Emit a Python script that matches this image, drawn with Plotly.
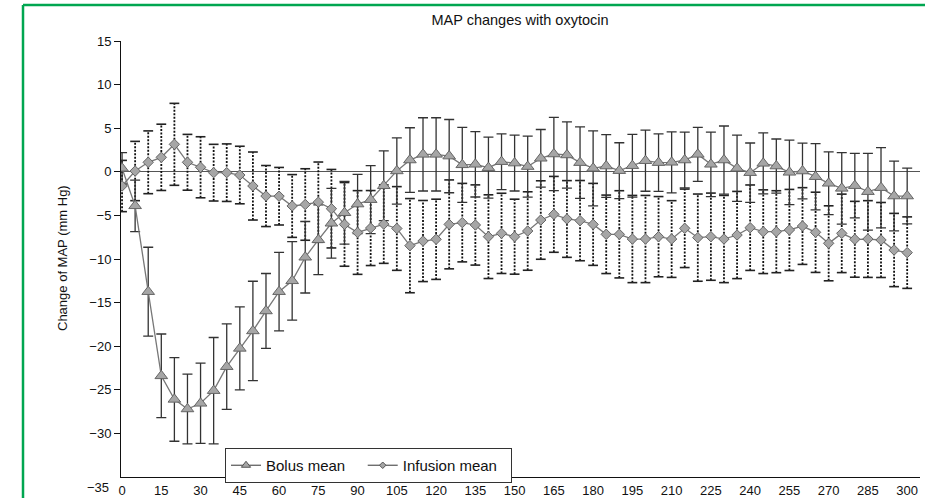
import plotly.graph_objects as go

# ---- data (minutes after oxytocin) ----
time_min = [0, 5, 10, 15, 20, 25, 30, 35, 40, 45, 50, 55, 60, 65, 70, 75, 80, 85, 90, 95,
            100, 105, 110, 115, 120, 125, 130, 135, 140, 145, 150, 155, 160, 165, 170, 175,
            180, 185, 190, 195, 200, 205, 210, 215, 220, 225, 230, 235, 240, 245, 250, 255,
            260, 265, 270, 275, 280, 285, 290, 295, 300]

bolus_mean = [0.4, -3.9, -13.75, -23.4, -26.1, -27.2, -26.55, -25.1, -22.35, -20.25,
              -18.25, -15.96, -13.75, -12.5, -9.8, -7.8, -5.9, -4.7, -3.7, -3.2,
              -1.6, 0.1, 1.35, 2.0, 2.0, 1.8, 0.8, 0.86, 0.47, 1.16,
              1.0, 0.6, 1.55, 2.04, 1.93, 1.05, 0.4, 0.66, 0.13, 0.7,
              1.27, 1.05, 1.09, 1.35, 2.0, 0.86, 1.35, 0.4, -0.1, 0.97,
              0.66, -0.06, 0.09, -0.56, -1.32, -1.9, -1.59, -2.28, -1.82, -2.78,
              -2.78]
bolus_sd = [1.8, 2.95, 5.1, 4.8, 4.8, 4.0, 4.6, 6.1, 4.9, 4.75,
            5.7, 4.3, 4.5, 4.5, 4.1, 4.0, 4.0, 3.6, 3.4, 3.9,
            4.0, 3.8, 3.7, 4.2, 4.2, 4.2, 4.3, 3.75, 3.5, 3.2,
            3.2, 3.5, 3.3, 4.2, 3.8, 4.1, 4.3, 3.6, 3.2, 3.6,
            3.5, 3.3, 3.5, 3.2, 3.1, 3.7, 3.9, 3.8, 3.4, 3.5,
            3.1, 3.7, 3.2, 3.8, 3.6, 4.1, 3.7, 4.4, 4.6, 4.0,
            3.2]

infusion_mean = [-1.63, 0.09, 1.09, 1.66, 3.15, 1.09, 0.52, -0.1, -0.1, -0.37,
                 -1.63, -2.78, -2.8, -3.92, -3.75, -3.48, -4.23, -6.03, -6.96, -6.45,
                 -6.0, -6.5, -8.47, -7.94, -7.74, -6.03, -5.83, -6.1, -7.44, -7.06,
                 -7.44, -6.79, -5.53, -4.88, -5.41, -5.6, -6.03, -7.17, -7.17, -7.71,
                 -7.71, -7.44, -7.71, -6.48, -7.55, -7.44, -7.71, -7.25, -6.41, -6.87,
                 -6.87, -6.67, -6.22, -6.94, -8.2, -7.06, -7.74, -7.71, -7.82, -8.97,
                 -9.27]
infusion_sd = [2.94, 3.4, 3.6, 3.8, 4.7, 3.2, 3.5, 3.25, 3.3, 3.3,
               3.9, 3.5, 3.3, 3.6, 4.1, 4.6, 4.5, 4.8, 4.8, 4.3,
               4.5, 4.8, 5.4, 4.65, 4.6, 5.1, 4.5, 4.6, 4.8, 4.6,
               4.3, 4.5, 4.5, 4.35, 4.4, 4.6, 4.7, 4.5, 5.0, 5.0,
               5.0, 4.6, 4.4, 4.5, 5.0, 5.0, 5.0, 5.0, 4.9, 4.8,
               4.7, 4.65, 4.4, 4.6, 4.3, 4.5, 4.35, 4.4, 4.3, 4.2,
               4.1]

x_ticks = [0, 15, 30, 45, 60, 75, 90, 105, 120, 135, 150, 165, 180, 195, 210, 225,
           240, 255, 270, 285, 300]
y_ticks = [-30, -25, -20, -15, -10, -5, 0, 5, 10, 15]

title_text = "MAP changes with oxytocin"
y_title = "Change of MAP (mm Hg)"
bolus_name = "Bolus mean"
infusion_name = "Infusion mean"

FONT = "Liberation Sans, Arial, Helvetica, sans-serif"
INK = "#111111"

# ---- derived geometry for the dotted infusion error bars ----
bar_x, bar_y, cap_x, cap_y = [], [], [], []
for t, m, s in zip(time_min, infusion_mean, infusion_sd):
    bar_x += [t, t, None]
    bar_y += [m - s, m + s, None]
    cap_x += [t, t]
    cap_y += [m - s, m + s]

fig = go.Figure()

# dotted infusion SD bars
fig.add_trace(go.Scatter(x=bar_x, y=bar_y, mode="lines", showlegend=False,
                         hoverinfo="skip",
                         line=dict(color="#111111", width=1.8, dash="2px,1.5px")))
fig.add_trace(go.Scatter(x=cap_x, y=cap_y, mode="markers", showlegend=False,
                         hoverinfo="skip",
                         marker=dict(symbol="line-ew", size=7,
                                     line=dict(color="#222222", width=1.6))))

line_style = dict(color="#777777", width=1.3)

# bolus
fig.add_trace(go.Scatter(
    x=time_min, y=bolus_mean, mode="lines+markers", name=bolus_name,
    showlegend=False, line=line_style,
    marker=dict(symbol="triangle-up", size=11, color="#a6a6a6",
                line=dict(color="#666666", width=1)),
    error_y=dict(type="data", array=bolus_sd, visible=True, color="#333333",
                 thickness=1.3, width=5),
))

# infusion
fig.add_trace(go.Scatter(
    x=time_min, y=infusion_mean, mode="lines+markers", name=infusion_name,
    showlegend=False, line=line_style,
    marker=dict(symbol="diamond", size=8, color="#a6a6a6",
                line=dict(color="#666666", width=1)),
))

# legend-only entries (small symbols as in the original key)
fig.add_trace(go.Scatter(
    x=[None], y=[None], mode="lines+markers",
    name=bolus_name + "\u00a0\u00a0\u00a0",
    line=dict(color="#555555", width=1.2),
    marker=dict(symbol="triangle-up", size=8, color="#a6a6a6",
                line=dict(color="#555555", width=1))))
fig.add_trace(go.Scatter(
    x=[None], y=[None], mode="lines+markers",
    name=infusion_name + "\u00a0\u00a0",
    line=dict(color="#555555", width=1.2),
    marker=dict(symbol="diamond", size=5, color="#a6a6a6",
                line=dict(color="#555555", width=1))))

# plot area geometry in pixels
L, R, T, B = 121, 5, 41, 21
W, H = 925, 498
pw, ph = W - L - R, H - T - B

def px_x(p):
    return (p - L) / pw

def px_y(p):
    return (H - B - p) / ph

green = "#00a650"
fig.add_shape(type="line", xref="paper", yref="paper",
              x0=px_x(23), x1=px_x(925), y0=px_y(5), y1=px_y(5),
              line=dict(color=green, width=2.5))
fig.add_shape(type="line", xref="paper", yref="paper",
              x0=px_x(23), x1=px_x(23), y0=px_y(5), y1=px_y(498),
              line=dict(color=green, width=2.5))

fig.add_annotation(text=y_title, xref="paper", yref="paper",
                   x=px_x(62), y=px_y(258), textangle=-90, showarrow=False,
                   xanchor="center", yanchor="middle",
                   font=dict(family=FONT, size=13, color=INK))
fig.add_annotation(text="\u221235", xref="paper", yref="paper",
                   x=px_x(111), y=px_y(488), showarrow=False,
                   xanchor="right", yanchor="middle",
                   font=dict(family=FONT, size=13, color=INK))

fig.update_layout(
    width=W, height=H,
    margin=dict(l=L, r=R, t=T, b=B, pad=0, autoexpand=False),
    paper_bgcolor="white", plot_bgcolor="white",
    font=dict(family=FONT, color=INK),
    title=dict(text=title_text, x=px_x(520), xref="paper", xanchor="center",
               y=1 - 20 / H, yref="container", yanchor="middle",
               font=dict(family=FONT, size=14.5, color=INK)),
    showlegend=True,
    legend=dict(orientation="h", x=px_x(225), y=px_y(448), xanchor="left",
                yanchor="top", bgcolor="white", bordercolor="#333333",
                borderwidth=1, font=dict(family=FONT, size=15, color=INK),
                itemwidth=30, tracegroupgap=0),
    xaxis=dict(range=[-0.4, 304.9], tickvals=x_ticks, ticks="", showgrid=False,
               zeroline=False, showline=True, linecolor=INK, linewidth=1,
               ticklabelstandoff=1, automargin=False,
               tickfont=dict(family=FONT, size=13, color=INK)),
    yaxis=dict(range=[-35, 15], tickvals=y_ticks, ticks="outside", ticklen=6,
               tickcolor=INK, showgrid=False, zeroline=True, automargin=False,
               zerolinecolor="#555555", zerolinewidth=1.2, showline=True,
               linecolor=INK, linewidth=1,
               tickfont=dict(family=FONT, size=13, color=INK)),
)

fig.write_html("out.html")
